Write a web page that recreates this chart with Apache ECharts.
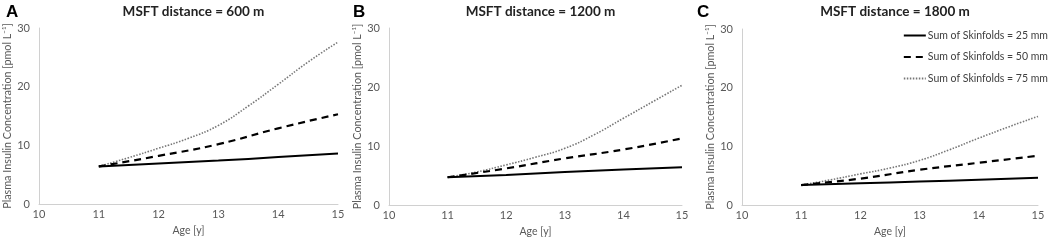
<!DOCTYPE html>
<html><head><meta charset="utf-8">
<script src="https://cdn.jsdelivr.net/npm/echarts@6/dist/echarts.min.js"></script>
<style>html,body{margin:0;padding:0;background:#fff}#c{width:1053px;height:245px}</style>
</head><body><div id="c"></div>
<script>
const ages = [11, 12, 13, 14, 15];
const agesFine = [11, 11.5, 12, 12.5, 13, 13.5, 14, 14.5, 15];
const xTicks = [10, 11, 12, 13, 14, 15];
const yTicks = [0, 10, 20, 30];
const panelTitles = ['MSFT distance = 600 m', 'MSFT distance = 1200 m', 'MSFT distance = 1800 m'];
const panelLetters = ['A', 'B', 'C'];
const seriesNames = ['Sum of Skinfolds = 25 mm', 'Sum of Skinfolds = 50 mm', 'Sum of Skinfolds = 75 mm'];
// Panel A (600 m)
const a25 = [6.4, 6.9, 7.4, 8.0, 8.6];
const a50 = [6.4, 8.2, 10.2, 12.9, 15.3];
const a75 = [6.4, 7.9, 9.5, 11.2, 13.4, 16.7, 20.4, 24.2, 27.6];
// Panel B (1200 m)
const b25 = [4.7, 5.1, 5.6, 6.0, 6.4];
const b50 = [4.7, 6.2, 7.9, 9.4, 11.3];
const b75 = [4.7, 5.6, 6.8, 8.1, 9.6, 11.9, 14.7, 17.5, 20.3];
// Panel C (1800 m)
const c25 = [3.4, 3.7, 4.0, 4.3, 4.65];
const c50 = [3.4, 4.5, 6.0, 7.2, 8.4];
const c75 = [3.4, 4.3, 5.3, 6.3, 7.6, 9.4, 11.4, 13.3, 15.1];

const panels = [[a25, a50, a75], [b25, b50, b75], [c25, c50, c75]];
const xsFor = [ages, ages, agesFine];
const grids = [
  {left: 39, top: 28, width: 299, height: 176},
  {left: 389, top: 28, width: 293, height: 177},
  {left: 742, top: 29, width: 296, height: 176}
];
const FONT = 'Lato';
const styles = [
  {type: 'solid', width: 2, color: '#000'},
  {type: [7, 5], width: 2.2, color: '#000'},
  {type: [1.5, 1.5], width: 1.6, color: '#777'}
];
const option = {
  animation: false,
  textStyle: {fontFamily: FONT},
  color: ['#000', '#000', '#777'],
  title: [],
  grid: grids.map(g => Object.assign({containLabel: false}, g)),
  xAxis: [], yAxis: [], series: [],
  legend: {
    orient: 'vertical', right: 0, top: 25, itemGap: 10.5, itemWidth: 22, itemHeight: 11,
    data: seriesNames,
    itemStyle: {opacity: 0},
    textStyle: {fontFamily: FONT, fontSize: 10.5, color: '#404040', padding: [0, 0, 0, -3]}
  }
};
panels.forEach((p, i) => {
  const g = grids[i];
  option.title.push({
    text: panelTitles[i], left: g.left + g.width / 2, top: 0, textAlign: 'center',
    textStyle: {fontFamily: FONT, fontSize: 13.5, fontWeight: 'bold', color: '#222'}
  });
  option.title.push({
    text: panelLetters[i], left: [1, 348, 692][i], top: -1,
    textStyle: {fontFamily: 'Liberation Sans', fontSize: 17, fontWeight: 'bold', color: '#000'}
  });
  option.xAxis.push({
    type: 'value', gridIndex: i, min: xTicks[0], max: xTicks[xTicks.length - 1], interval: 1,
    name: 'Age [y]', nameLocation: 'middle', nameGap: 19,
    nameTextStyle: {fontFamily: FONT, fontSize: 10.5, color: '#595959'},
    axisLine: {lineStyle: {color: '#d0d0d0', width: 1}},
    axisTick: {show: false}, splitLine: {show: false},
    axisLabel: {fontFamily: FONT, fontSize: 11, color: '#595959', margin: 5}
  });
  option.yAxis.push({
    type: 'value', gridIndex: i, min: yTicks[0], max: yTicks[yTicks.length - 1], interval: 10,
    name: 'Plasma Insulin Concentration [pmol L\u207B\u00B9]', nameLocation: 'middle', nameGap: 24,
    nameTextStyle: {fontFamily: FONT, fontSize: 10.8, color: '#595959'},
    axisLine: {show: true, lineStyle: {color: '#d0d0d0', width: 1}},
    axisTick: {show: false}, splitLine: {show: false},
    axisLabel: {fontFamily: FONT, fontSize: 11, color: '#595959', margin: 9}
  });
  p.forEach((vals, k) => {
    const xs = xsFor[k];
    option.series.push({
      name: seriesNames[k], type: 'line', xAxisIndex: i, yAxisIndex: i,
      data: xs.map((a, j) => [a, vals[j]]),
      smooth: 0.5, symbol: 'none', showSymbol: false, z: 3 - k,
      lineStyle: styles[k]
    });
  });
});
const chart = echarts.init(document.getElementById('c'), null, {renderer: 'canvas'});
chart.setOption(option);
</script></body></html>
